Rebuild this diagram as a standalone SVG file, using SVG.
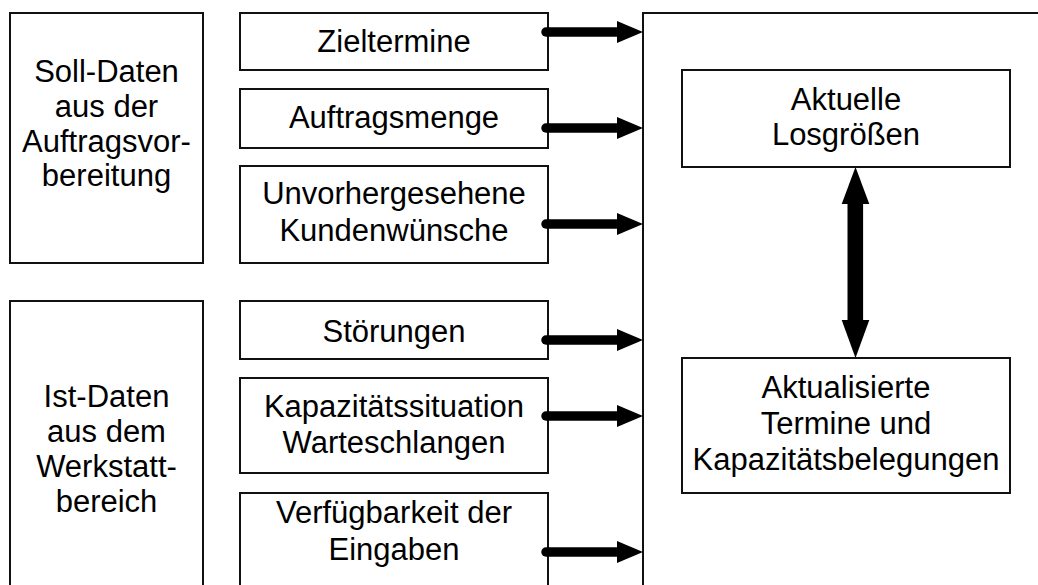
<svg xmlns="http://www.w3.org/2000/svg" width="1038" height="585" viewBox="0 0 1038 585">
<style>
.box{fill:#fff;stroke:#111;stroke-width:2}
.t{font-family:"Liberation Sans",Arial,sans-serif;font-size:31px;fill:#000;text-anchor:middle}
.shaft{stroke:#000;stroke-width:9.5;stroke-linecap:round;fill:none}
.head{fill:#000}
</style>
<rect width="1038" height="585" fill="#fff"/>
<g id="soll">
<rect class="box" x="10" y="13" width="193" height="250"/>
<text class="t" x="106.5" y="82">Soll-Daten</text>
<text class="t" x="106.5" y="117">aus der</text>
<text class="t" x="106.5" y="152">Auftragsvor-</text>
<text class="t" x="106.5" y="186">bereitung</text>
</g>
<g id="ist">
<rect class="box" x="10" y="301" width="193" height="300"/>
<text class="t" x="106.5" y="407">Ist-Daten</text>
<text class="t" x="106.5" y="442">aus dem</text>
<text class="t" x="106.5" y="477">Werkstatt-</text>
<text class="t" x="106.5" y="512">bereich</text>
</g>
<g id="zieltermine">
<rect class="box" x="240" y="13" width="308" height="57"/>
<text class="t" x="394" y="52">Zieltermine</text>
</g>
<g id="auftragsmenge">
<rect class="box" x="240" y="89" width="308" height="59"/>
<text class="t" x="394" y="128">Auftragsmenge</text>
</g>
<g id="kundenwuensche">
<rect class="box" x="240" y="166" width="308" height="97"/>
<text class="t" x="394" y="204">Unvorhergesehene</text>
<text class="t" x="394" y="241">Kundenwünsche</text>
</g>
<g id="stoerungen">
<rect class="box" x="240" y="301" width="308" height="58"/>
<text class="t" x="394" y="342">Störungen</text>
</g>
<g id="kapazitaet">
<rect class="box" x="240" y="378" width="308" height="95"/>
<text class="t" x="394" y="417">Kapazitätssituation</text>
<text class="t" x="394" y="453">Warteschlangen</text>
</g>
<g id="verfuegbarkeit">
<rect class="box" x="240" y="493" width="308" height="110"/>
<text class="t" x="394" y="523">Verfügbarkeit der</text>
<text class="t" x="394" y="560">Eingaben</text>
</g>
<g id="planung">
<rect class="box" x="643" y="13" width="420" height="600"/>
</g>
<g id="losgroessen">
<rect class="box" x="682" y="70" width="328" height="97"/>
<text class="t" x="846" y="110">Aktuelle</text>
<text class="t" x="846" y="145">Losgrößen</text>
</g>
<g id="termine">
<rect class="box" x="682" y="358" width="328" height="135"/>
<text class="t" x="846" y="398">Aktualisierte</text>
<text class="t" x="846" y="434">Termine und</text>
<text class="t" x="846" y="470">Kapazitätsbelegungen</text>
</g>
<g id="connectors">
<line class="shaft" x1="546" y1="32" x2="620" y2="32"/>
<polygon class="head" points="617,21 643,32 617,43"/>
<line class="shaft" x1="546" y1="128" x2="620" y2="128"/>
<polygon class="head" points="617,117 643,128 617,139"/>
<line class="shaft" x1="546" y1="224" x2="620" y2="224"/>
<polygon class="head" points="617,213 643,224 617,235"/>
<line class="shaft" x1="546" y1="340" x2="620" y2="340"/>
<polygon class="head" points="617,329 643,340 617,351"/>
<line class="shaft" x1="546" y1="416" x2="620" y2="416"/>
<polygon class="head" points="617,405 643,416 617,427"/>
<line class="shaft" x1="546" y1="552" x2="620" y2="552"/>
<polygon class="head" points="617,541 643,552 617,563"/>
<rect class="head" x="847.5" y="200" width="15.6" height="124"/>
<polygon class="head" points="855.5,167 869.3,204 841.7,204"/>
<polygon class="head" points="855.5,358 869.3,320 841.7,320"/>
</g>
</svg>
